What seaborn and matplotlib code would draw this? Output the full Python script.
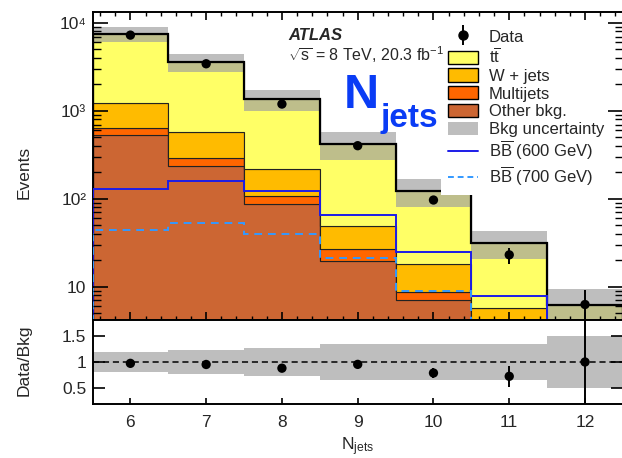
import numpy as np
import matplotlib
matplotlib.use("Agg")
import matplotlib.pyplot as plt
from matplotlib.patches import Patch
from matplotlib.lines import Line2D
from matplotlib.ticker import FixedLocator, MultipleLocator, LogLocator, NullFormatter, NullLocator
import seaborn as sns

# ---- event yields per jet multiplicity ----
njets = [6, 7, 8, 9, 10, 11, 12]
ttbar = [6230, 3020, 1140, 372, 105, 26.2, 4.7]
wjets = [578, 292, 109, 22.5, 9.4, 2.9, 0.8]
multijets = [112, 51, 20, 7.1, 1.6, 0.8, 0.2]
other_bkg = [533, 239, 88, 19.7, 7.1, 2.0, 0.6]
bkg_rel_unc = [0.19, 0.24, 0.27, 0.35, 0.35, 0.35, 0.51]
data = [7260, 3430, 1195, 402, 97, 23.1, 6.3]
data_err = [85, 59, 35, 20, 10, 4.8, 3.0]
ratio_err = [0.012, 0.017, 0.03, 0.05, 0.1, 0.2, 1.0]
bb600 = [129, 160, 123, 66, 24.8, 7.9, 2.0]
bb700 = [44.5, 53, 40, 21.4, 8.9, 3.5, 1.0]
y_ticks_main = [10, 100, 1000, 10000]
y_labels_main = ["10", "10²", "10³", "10⁴"]
y_ticks_ratio = [0.5, 1.0, 1.5]
y_labels_ratio = ["0.5", "1", "1.5"]

sns.set_theme(style="ticks")
plt.rcParams["font.family"] = ["Liberation Sans", "DejaVu Sans"]
plt.rcParams["mathtext.fontset"] = "custom"
plt.rcParams["mathtext.rm"] = "Liberation Sans"
plt.rcParams["mathtext.it"] = "Liberation Sans:italic"
plt.rcParams["mathtext.bf"] = "Liberation Sans:bold"
plt.rcParams["mathtext.default"] = "regular"

C_TT = "#FFFF66"
C_W = "#FFBB00"
C_MJ = "#FF6600"
C_OTH = "#CC6633"
C_UNC = "#9E9E9E"
C_RBAND = "#BEBEBE"
C_600 = "#1C1CE8"
C_700 = "#3399FF"

W, H = 622, 458
fig = plt.figure(figsize=(W / 100, H / 100), dpi=100)
left = 92.5 / W
width = (622.9 - 92.5) / W
ax = fig.add_axes([left, 1 - 320 / H, width, (320 - 11.7) / H])
rax = fig.add_axes([left, 1 - 404 / H, width, 84 / H])

x = np.array(njets, dtype=float)
edges = np.append(x - 0.5, x[-1] + 0.5)

# stacked backgrounds, bottom to top
layers = [(other_bkg, C_OTH), (multijets, C_MJ), (wjets, C_W), (ttbar, C_TT)]
base = np.full(len(x), 0.1)
cum = np.zeros(len(x))
for vals, col in layers:
    cum = cum + np.array(vals)
    ax.stairs(cum, edges, baseline=base.copy(), fill=True, facecolor=col,
              edgecolor="#222222", linewidth=0.8, zorder=1)
    base = cum.copy()
total = cum
rel = np.array(bkg_rel_unc)

# background uncertainty band
ax.stairs(total * (1 + rel), edges, baseline=total * (1 - rel), fill=True,
          facecolor=C_UNC, alpha=0.67, linewidth=0, zorder=2)
ax.stairs(total, edges, color="black", linewidth=1.6, zorder=3)

# signal templates
ax.stairs(bb600, edges, color=C_600, linewidth=1.4, zorder=4)
ax.stairs(bb700, edges, color=C_700, linewidth=1.4, linestyle=(0, (4, 3)), zorder=4)

# data
ax.errorbar(x, data, yerr=data_err, fmt="none", ecolor="black", elinewidth=1.4, zorder=6)
sns.scatterplot(x=x, y=data, ax=ax, color="black", s=45, edgecolor="none", zorder=7, legend=False)

ax.set_yscale("log")
ax.set_xlim(5.5, 12.5)
ax.set_ylim(4.2, 13400)

# legend
h_data = (Line2D([], [], marker="|", markersize=15, mew=1.4, color="black", ls="none"),
          Line2D([], [], marker="o", markersize=6.5, color="black", ls="none"))
handles = [
    h_data,
    Patch(facecolor=C_TT, edgecolor="black", linewidth=1.0),
    Patch(facecolor=C_W, edgecolor="black", linewidth=1.0),
    Patch(facecolor=C_MJ, edgecolor="black", linewidth=1.0),
    Patch(facecolor=C_OTH, edgecolor="black", linewidth=1.0),
    Patch(facecolor=C_RBAND, edgecolor="none"),
    Line2D([], [], color=C_600, linewidth=1.4),
    Line2D([], [], color=C_700, linewidth=1.4, linestyle=(0, (3, 2))),
]
labels = ["Data", r"$t\overline{t}$", "W + jets", "Multijets", "Other bkg.",
          "Bkg uncertainty", r"$B\overline{B}$ (600 GeV)", r"$B\overline{B}$ (700 GeV)"]
leg = ax.legend(handles, labels, loc="upper left", bbox_to_anchor=(0.6575, 0.965),
                borderaxespad=0, frameon=True, fancybox=False, facecolor="white",
                edgecolor="none", framealpha=1, fontsize=12, handlelength=1.8,
                handleheight=0.85, labelspacing=0.14, handletextpad=0.65, borderpad=0.4)
leg.set_zorder(5)

# labels on the canvas
fig.text(288 / W, 1 - 40 / H, "ATLAS", fontsize=12, fontweight="bold", fontstyle="italic", va="baseline")
fig.text(288 / W, 1 - 61 / H, r"$\sqrt{s}$ = 8 TeV, 20.3 fb$^{-1}$", fontsize=11.5, va="baseline")
fig.text(344 / W, 1 - 108 / H, "N", fontsize=35, fontweight="bold", color="#0A3CF5", va="baseline")
fig.text(381 / W, 1 - 127 / H, "jets", fontsize=24, fontweight="bold", color="#0A3CF5", va="baseline")
fig.text(24 / W, 1 - 172 / H, "Events", rotation=90, ha="center", va="center", fontsize=12.5)
fig.text(24 / W, 1 - 360 / H, "Data/Bkg", rotation=90, ha="center", va="center", fontsize=12.5)

# ratio panel
ratio = np.array(data) / total
rax.stairs(1 + rel, edges, baseline=1 - rel, fill=True, facecolor=C_RBAND, linewidth=0, zorder=1)
rax.axhline(1.0, color="black", linestyle=(0, (4, 2.5)), linewidth=1.1, zorder=2)
rax.errorbar(x, ratio, yerr=ratio_err, fmt="none", ecolor="black", elinewidth=1.4, zorder=3)
sns.scatterplot(x=x, y=ratio, ax=rax, color="black", s=45, edgecolor="none", zorder=4, legend=False)
rax.set_xlim(5.5, 12.5)
rax.set_ylim(0.19, 1.81)

for a in (ax, rax):
    a.set_xlabel("")
    a.set_ylabel("")
    for sp in a.spines.values():
        sp.set_linewidth(1.4)
        sp.set_color("black")

# axis ticks, set once the artists are in place
ax.yaxis.set_major_locator(FixedLocator(y_ticks_main))
ax.set_yticklabels(y_labels_main)
ax.yaxis.set_minor_locator(LogLocator(base=10, subs=np.arange(2, 10)))
ax.yaxis.set_minor_formatter(NullFormatter())
ax.xaxis.set_major_locator(FixedLocator(njets))
ax.xaxis.set_minor_locator(MultipleLocator(0.2))
ax.tick_params(axis="x", which="both", direction="in", top=True, bottom=True, labelbottom=False,
               color="black")
ax.tick_params(axis="x", which="major", length=6, width=1.2)
ax.tick_params(axis="x", which="minor", length=3, width=1.0)
ax.tick_params(axis="y", which="both", direction="in", left=True, right=True, labelsize=12.5,
               pad=4.5, color="black")
ax.tick_params(axis="y", which="major", length=11, width=1.2)
ax.tick_params(axis="y", which="minor", length=5.5, width=1.0)

rax.yaxis.set_major_locator(FixedLocator(y_ticks_ratio))
rax.set_yticklabels(y_labels_ratio)
rax.xaxis.set_major_locator(FixedLocator(njets))
rax.xaxis.set_minor_locator(NullLocator())
rax.tick_params(axis="x", which="major", direction="in", length=4.5, width=1.2, top=False,
                bottom=True, labelsize=12.5, pad=8, color="black")
rax.tick_params(axis="y", which="major", direction="in", length=8.5, width=1.2, left=True,
                right=True, labelsize=12.5, pad=4.5, color="black")
for a in (ax, rax):
    a.set_axisbelow(False)
    a.xaxis.set_zorder(8)
    a.yaxis.set_zorder(8)

fig.text(358 / W, 1 - 450 / H, r"N$_{\rm jets}$", ha="center", va="baseline", fontsize=12.5)

fig.savefig("out.png", dpi=100)
